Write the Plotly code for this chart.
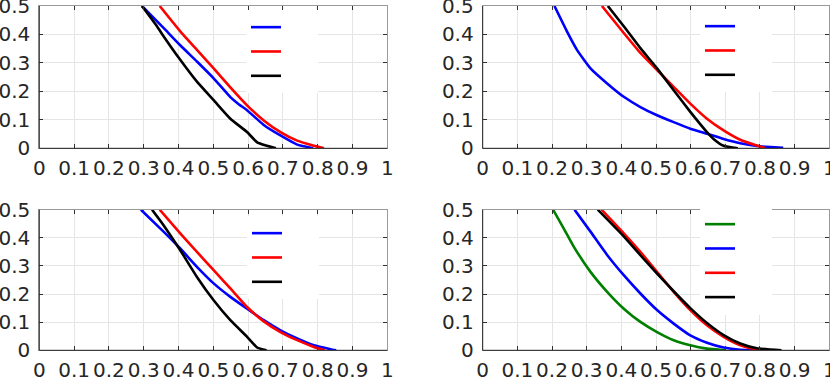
import plotly.graph_objects as go

# ---------------- data ----------------
ticks_x = [0, 0.1, 0.2, 0.3, 0.4, 0.5, 0.6, 0.7, 0.8, 0.9, 1]
ticks_x_text = ["0", "0.1", "0.2", "0.3", "0.4", "0.5", "0.6", "0.7", "0.8", "0.9", "1"]
ticks_y = [0, 0.1, 0.2, 0.3, 0.4, 0.5]
ticks_y_text = ["0", "0.1", "0.2", "0.3", "0.4", "0.5"]

# panel 1 (top-left)
p1_blue_x = [0.295, 0.357, 0.405, 0.453, 0.501, 0.549, 0.573, 0.597, 0.645, 0.693, 0.741, 0.787]
p1_blue_y = [0.5, 0.423, 0.362, 0.305, 0.246, 0.180, 0.155, 0.134, 0.082, 0.045, 0.013, 0.0]
p1_red_x = [0.346, 0.405, 0.453, 0.501, 0.549, 0.597, 0.645, 0.693, 0.741, 0.789, 0.818]
p1_red_y = [0.5, 0.411, 0.346, 0.281, 0.214, 0.151, 0.098, 0.057, 0.027, 0.009, 0.0]
p1_black_x = [0.295, 0.338, 0.357, 0.405, 0.453, 0.501, 0.549, 0.597, 0.626, 0.654, 0.680]
p1_black_y = [0.5, 0.429, 0.394, 0.311, 0.234, 0.169, 0.104, 0.057, 0.021, 0.009, 0.0]

# panel 2 (top-right)
p2_blue_x = [0.207, 0.243, 0.272, 0.311, 0.359, 0.407, 0.455, 0.503, 0.551, 0.599, 0.647, 0.695, 0.743, 0.791, 0.830, 0.867]
p2_blue_y = [0.5, 0.411, 0.346, 0.281, 0.228, 0.181, 0.145, 0.116, 0.092, 0.069, 0.051, 0.033, 0.018, 0.008, 0.004, 0.002]
p2_red_x = [0.344, 0.407, 0.455, 0.503, 0.551, 0.599, 0.647, 0.695, 0.743, 0.782, 0.816]
p2_red_y = [0.5, 0.405, 0.335, 0.275, 0.216, 0.157, 0.104, 0.063, 0.030, 0.013, 0.0]
p2_black_x = [0.361, 0.407, 0.455, 0.503, 0.551, 0.599, 0.647, 0.666, 0.695, 0.736]
p2_black_y = [0.5, 0.429, 0.352, 0.281, 0.204, 0.128, 0.057, 0.033, 0.009, 0.0]

# panel 3 (bottom-left)
p3_blue_x = [0.292, 0.357, 0.405, 0.453, 0.501, 0.549, 0.597, 0.645, 0.693, 0.741, 0.789, 0.837, 0.853]
p3_blue_y = [0.5, 0.422, 0.362, 0.297, 0.238, 0.190, 0.148, 0.107, 0.071, 0.042, 0.018, 0.004, 0.0]
p3_red_x = [0.346, 0.405, 0.453, 0.501, 0.549, 0.597, 0.645, 0.693, 0.741, 0.789, 0.820]
p3_red_y = [0.5, 0.416, 0.350, 0.285, 0.220, 0.154, 0.103, 0.065, 0.036, 0.012, 0.0]
p3_black_x = [0.324, 0.357, 0.405, 0.453, 0.501, 0.549, 0.597, 0.626, 0.653]
p3_black_y = [0.5, 0.445, 0.356, 0.261, 0.178, 0.107, 0.048, 0.010, 0.0]

# panel 4 (bottom-right)
p4_green_x = [0.203, 0.234, 0.263, 0.311, 0.359, 0.407, 0.455, 0.503, 0.551, 0.599, 0.647, 0.699]
p4_green_y = [0.5, 0.433, 0.368, 0.279, 0.208, 0.148, 0.101, 0.065, 0.036, 0.018, 0.006, 0.0]
p4_blue_x = [0.265, 0.311, 0.359, 0.407, 0.455, 0.503, 0.551, 0.599, 0.647, 0.695, 0.743, 0.797]
p4_blue_y = [0.5, 0.422, 0.339, 0.267, 0.202, 0.143, 0.095, 0.053, 0.027, 0.010, 0.002, 0.0]
p4_red_x = [0.343, 0.407, 0.455, 0.503, 0.551, 0.599, 0.647, 0.695, 0.743, 0.791, 0.819]
p4_red_y = [0.5, 0.416, 0.350, 0.279, 0.208, 0.143, 0.089, 0.048, 0.018, 0.003, 0.0]
p4_black_x = [0.332, 0.407, 0.455, 0.503, 0.551, 0.599, 0.647, 0.695, 0.743, 0.791, 0.862]
p4_black_y = [0.5, 0.405, 0.338, 0.273, 0.210, 0.150, 0.097, 0.054, 0.024, 0.007, 0.0]

BLUE, RED, BLACK, GREEN = "#0000ff", "#ff0000", "#000000", "#008000"
BLANK = "\u00a0" * 5

panels = [
    ("x", "y", "legend", [(p1_blue_x, p1_blue_y, BLUE), (p1_red_x, p1_red_y, RED), (p1_black_x, p1_black_y, BLACK)]),
    ("x2", "y2", "legend2", [(p2_blue_x, p2_blue_y, BLUE), (p2_red_x, p2_red_y, RED), (p2_black_x, p2_black_y, BLACK)]),
    ("x3", "y3", "legend3", [(p3_blue_x, p3_blue_y, BLUE), (p3_red_x, p3_red_y, RED), (p3_black_x, p3_black_y, BLACK)]),
    ("x4", "y4", "legend4", [(p4_green_x, p4_green_y, GREEN), (p4_blue_x, p4_blue_y, BLUE), (p4_red_x, p4_red_y, RED), (p4_black_x, p4_black_y, BLACK)]),
]

fig = go.Figure()
for xa, ya, lg, series in panels:
    for xs, ys, col in series:
        fig.add_trace(go.Scatter(x=xs, y=ys, xaxis=xa, yaxis=ya, legend=lg, mode="lines",
                                 name=BLANK, line=dict(color=col, width=2.6, shape="spline", smoothing=0.45)))

W, H = 830, 378
def px_x(a, b):
    return [a / W, min(b / W, 1.0)]
def px_y(top, bot):
    return [(H - bot) / H, (H - top) / H]

tick_font = dict(family="DejaVu Sans", size=20, color="#262626")
common = dict(showgrid=True, gridcolor="#e5e5e5", gridwidth=1, zeroline=False,
              showline=True, linecolor="#9a9a9a", linewidth=1, mirror="ticks",
              ticks="inside", ticklen=4, tickcolor="#303030", tickwidth=1,
              tickfont=tick_font, automargin=False, fixedrange=True, layer="above traces",
              ticklabeloverflow="allow")
common_x = dict(common, range=[0, 1], tickmode="array", tickvals=ticks_x, ticktext=ticks_x_text,
                ticklabelstandoff=2)
common_y = dict(common, range=[0, 0.5], tickmode="array", tickvals=ticks_y, ticktext=ticks_y_text,
                ticklabelstandoff=4)

dx1 = px_x(39.3, 387.3)
dx2 = px_x(482.7, 829.3)
dyt = px_y(6, 148.3)
dyb = px_y(209.7, 350.3)

leg_common = dict(bgcolor="white", borderwidth=0, font=dict(family="DejaVu Sans", size=16.4, color="black"),
                  xanchor="left", yanchor="top", itemwidth=30, tracegroupgap=0)

shapes = []
for xa, ya in [("x", "y"), ("x2", "y2"), ("x3", "y3"), ("x4", "y4")]:
    shapes.append(dict(type="line", xref=xa + " domain", yref=ya + " domain", x0=0, x1=0, y0=0, y1=1,
                       line=dict(color="#262626", width=1), layer="above"))
    shapes.append(dict(type="line", xref=xa + " domain", yref=ya + " domain", x0=0, x1=1, y0=0, y1=0,
                       line=dict(color="#262626", width=1), layer="above"))

fig.update_layout(
    width=W, height=H, margin=dict(l=0, r=0, t=0, b=0),
    paper_bgcolor="white", plot_bgcolor="white", showlegend=True,
    xaxis=dict(common_x, domain=dx1, anchor="y"),
    yaxis=dict(common_y, domain=dyt, anchor="x"),
    xaxis2=dict(common_x, domain=dx2, anchor="y2"),
    yaxis2=dict(common_y, domain=dyt, anchor="x2"),
    xaxis3=dict(common_x, domain=dx1, anchor="y3"),
    yaxis3=dict(common_y, domain=dyb, anchor="x3"),
    xaxis4=dict(common_x, domain=dx2, anchor="y4"),
    yaxis4=dict(common_y, domain=dyb, anchor="x4"),
    legend=dict(leg_common, x=246 / W, y=(H - 10) / H),
    legend2=dict(leg_common, x=700 / W, y=(H - 9) / H),
    legend3=dict(leg_common, x=247 / W, y=(H - 216) / H),
    legend4=dict(leg_common, x=700 / W, y=(H - 207) / H),
    shapes=shapes,
)

fig.write_html("out.html", config={"displayModeBar": False, "staticPlot": True},
               post_script="document.body.style.margin='0';document.body.style.padding='0';document.body.style.overflow='hidden';")
